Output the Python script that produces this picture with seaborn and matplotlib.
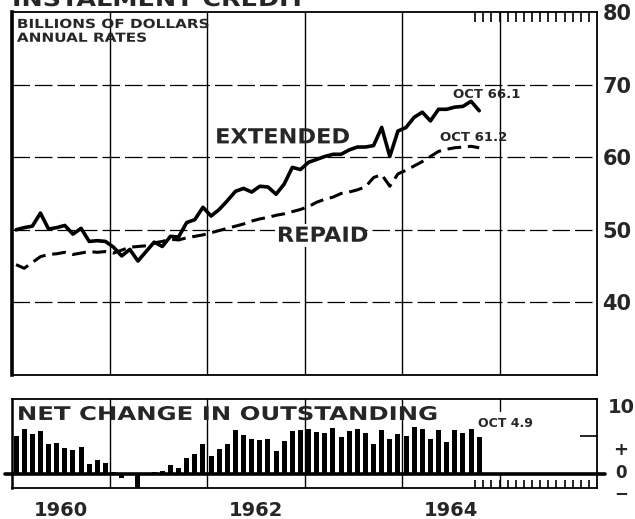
import numpy as np
import pandas as pd
import matplotlib
matplotlib.use('Agg')
import matplotlib.pyplot as plt
from matplotlib.patheffects import AbstractPathEffect
from matplotlib.transforms import Affine2D
import seaborn as sns

# monthly data, Jan 1960 - Oct 1964, billions of dollars at annual rates
months = pd.date_range('1960-01-01', '1964-10-01', freq='MS')

extended = [50.0, 50.3, 50.5, 52.3, 50.1, 50.3, 50.6, 49.4, 50.2, 48.4, 48.5, 48.4,
            47.6, 46.4, 47.3, 45.7, 47.0, 48.3, 47.7, 49.1, 49.0, 51.0, 51.4, 53.1,
            51.9, 52.8, 54.0, 55.3, 55.7, 55.2, 56.0, 55.9, 54.9, 56.3, 58.6, 58.3,
            59.3, 59.7, 60.1, 60.4, 60.4, 61.0, 61.4, 61.4, 61.6, 64.1, 60.1, 63.6,
            64.1, 65.5, 66.2, 65.0, 66.6, 66.6, 66.9, 67.0, 67.7, 66.4]

repaid = [45.2, 44.7, 45.5, 46.3, 46.6, 46.7, 46.9, 46.6, 46.8, 47.0, 46.9, 47.0,
          46.8, 47.2, 47.6, 47.7, 47.8, 48.2, 48.4, 48.7, 48.6, 48.9, 49.1, 49.3,
          49.6, 49.9, 50.2, 50.5, 50.8, 51.2, 51.5, 51.7, 52.0, 52.2, 52.5, 52.8,
          53.2, 53.8, 54.2, 54.5, 55.0, 55.2, 55.5, 55.9, 57.2, 57.6, 56.0, 57.7,
          58.2, 58.8, 59.4, 60.1, 60.8, 61.1, 61.3, 61.4, 61.5, 61.3]

net_change = [5.1, 6.0, 5.3, 5.7, 4.0, 4.1, 3.5, 3.2, 3.6, 1.3, 1.8, 1.5,
              0.2, -0.6, 0.1, -1.9, 0.1, 0.2, 0.4, 1.2, 0.8, 2.1, 2.7, 4.0,
              2.4, 3.3, 4.0, 5.9, 5.2, 4.7, 4.5, 4.7, 3.1, 4.4, 5.7, 5.9,
              6.0, 5.6, 5.5, 6.1, 4.9, 5.7, 6.0, 5.5, 4.0, 5.9, 4.7, 5.3,
              5.1, 6.3, 6.0, 4.7, 5.9, 4.3, 5.9, 5.5, 6.0, 4.9]

year_ticks = [6, 30, 54]          # mid-year, in months from Jan 1960
year_labels = ['1960', '1962', '1964']
value_ticks = [40, 50, 60, 70, 80]


class Widen(AbstractPathEffect):
    """stretch text horizontally (the old chart uses wide letter spacing)"""
    def __init__(self, sx):
        super().__init__()
        self.sx = sx

    def draw_path(self, renderer, gc, tpath, affine, rgbFace=None):
        renderer.draw_path(gc, tpath, Affine2D().scale(self.sx, 1) + affine, rgbFace)


sns.set_style('white')
plt.rcParams['font.family'] = ['DejaVu Sans']

df = pd.DataFrame({
    'x': (months.year - 1960) * 12 + months.month - 0.5,
    'extended': extended,
    'repaid': repaid,
    'net': net_change,
})

fig = plt.figure(figsize=(6.35, 5.19), dpi=100)
ax1 = fig.add_axes([12 / 635, 1 - 375 / 519, 585 / 635, 363 / 519])
ax2 = fig.add_axes([12 / 635, 1 - 488 / 519, 585 / 635, 89 / 519])

# ---- top panel
for m in [12, 24, 36, 48, 60]:
    ax1.axvline(m, color='black', lw=1.0, zorder=1)
for v in [40, 50, 60, 70]:
    ax1.axhline(v, color='black', lw=0.9, ls=(0, (14, 4)), zorder=1)

sns.lineplot(data=df, x='x', y='extended', ax=ax1, color='black', lw=2.6, zorder=3)
sns.lineplot(data=df, x='x', y='repaid', ax=ax1, color='black', lw=2.2,
             linestyle=(0, (4.5, 2.2)), zorder=3)

ax1.set_xlim(0, 72)
ax1.set_ylim(30, 80)
ax1.set_xlabel('')
ax1.set_ylabel('')
ax1.set_xticks([])
ax1.set_xticks(range(57, 72), minor=True)
ax1.tick_params(axis='x', which='minor', top=True, bottom=False, direction='in',
                length=7, width=1.2, color='black')
ax1.yaxis.tick_right()
ax1.set_yticks(value_ticks)
ax1.set_yticklabels([str(v) for v in value_ticks], fontsize=15, fontweight='bold')
ax1.tick_params(axis='y', length=0, pad=4)
for s in ax1.spines.values():
    s.set_linewidth(1.3)
    s.set_color('black')
ax1.spines['left'].set_linewidth(2.6)

ax1.text(0.6, 77.8, 'BILLIONS OF DOLLARS', fontsize=9, fontweight='bold', va='baseline',
         path_effects=[Widen(1.22)])
ax1.text(0.6, 75.9, 'ANNUAL RATES', fontsize=9, fontweight='bold', va='baseline',
         path_effects=[Widen(1.22)])
ax1.text(25.0, 61.9, 'EXTENDED', fontsize=15, fontweight='bold', va='baseline',
         path_effects=[Widen(1.08)], zorder=4)
ax1.text(32.6, 48.35, 'REPAID', fontsize=15, fontweight='bold', va='baseline',
         path_effects=[Widen(1.08)], zorder=4,
         bbox=dict(facecolor='white', edgecolor='none', pad=1))
ax1.text(54.3, 68.1, 'OCT 66.1', fontsize=9.5, fontweight='bold', va='baseline')
ax1.text(52.7, 62.3, 'OCT 61.2', fontsize=9.5, fontweight='bold', va='baseline')

# ---- bottom panel
for m in [12, 24, 36, 48]:
    ax2.axvline(m, color='black', lw=1.0, zorder=0.5)
ax2.axvline(60, ymin=0, ymax=0.16, color='black', lw=1.0)
ax2.axvline(60, ymin=0.86, ymax=1, color='black', lw=1.0)

sns.barplot(data=df, x='x', y='net', ax=ax2, native_scale=True, color='black',
            width=0.62, errorbar=None, saturation=1, linewidth=0, zorder=2)
ax2.plot([-0.9, 73], [0, 0], color='black', lw=2.6, clip_on=False, zorder=3)

ax2.set_xlim(0, 72)
ax2.set_ylim(-1.9, 10)
ax2.set_xlabel('')
ax2.set_ylabel('')
ax2.set_xticks(year_ticks)
ax2.set_xticklabels(year_labels, fontsize=14, fontweight='bold')
ax2.set_xticks(range(57, 72), minor=True)
ax2.tick_params(axis='x', which='major', length=0, pad=9)
ax2.tick_params(axis='x', which='minor', bottom=True, direction='in', length=6,
                width=1.2, color='black')
ax2.yaxis.tick_right()
ax2.set_yticks([5])
ax2.set_yticklabels([''])
ax2.tick_params(axis='y', direction='in', length=12, width=1.2, color='black')
for s in ax2.spines.values():
    s.set_linewidth(1.3)
    s.set_color('black')
ax2.spines['left'].set_linewidth(1.8)

ax2.text(0.6, 7.2, 'NET CHANGE IN OUTSTANDING', fontsize=13.5, fontweight='bold',
         va='baseline', path_effects=[Widen(1.3)])
ax2.text(57.4, 6.27, 'OCT 4.9', fontsize=9, fontweight='bold', va='baseline')

side = ax2.get_yaxis_transform()
ax2.text(1.041, 8.8, '10', transform=side, fontsize=14, fontweight='bold',
         ha='center', va='center')
ax2.text(1.041, 2.5, '+', transform=side, fontsize=13, fontweight='bold',
         ha='center', va='baseline')
ax2.text(1.041, -0.6, '0', transform=side, fontsize=12, fontweight='bold',
         ha='center', va='baseline')
ax2.text(1.041, -2.6, '\u2212', transform=side, fontsize=12, fontweight='bold',
         ha='center', va='center')

fig.text(12 / 635, 1 - 6 / 519, 'INSTALMENT CREDIT', fontsize=15, fontweight='bold',
         va='baseline', path_effects=[Widen(1.22)])

fig.savefig('out.png', dpi=100)
